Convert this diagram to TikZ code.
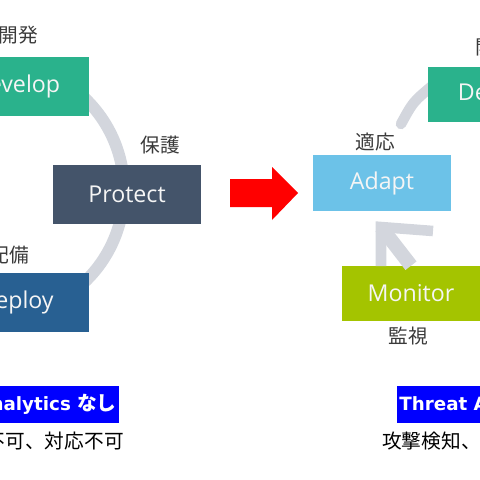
\documentclass[tikz,border=0pt]{standalone}
\usepackage{fontspec}
\newfontfamily\boxfont{Open Sans}
\newfontfamily\jpfont{Noto Sans CJK JP}
\newfontfamily\latfont{DejaVu Sans}
\usetikzlibrary{calc}

\definecolor{devgreen}{RGB}{42,178,140}
\definecolor{protslate}{RGB}{68,84,106}
\definecolor{deplblue}{RGB}{40,96,146}
\definecolor{adaptsky}{RGB}{108,194,232}
\definecolor{monlime}{RGB}{164,196,0}
\definecolor{arcgray}{RGB}{211,214,221}
\definecolor{labelgray}{RGB}{58,58,58}
\definecolor{arrowred}{RGB}{255,0,0}
\definecolor{tagblue}{RGB}{0,0,255}

\begin{document}
\begin{tikzpicture}[x=0.025cm,y=-0.025cm,
  stagebox/.style={rectangle,inner sep=0pt,text=white!92!gray,
    font=\boxfont\fontsize{16.5}{18}\selectfont},
  stagelbl/.style={text=labelgray,inner sep=0pt,
    font=\jpfont\fontsize{14}{16}\selectfont},
  cyclearc/.style={draw=arcgray,line width=8.5pt},
  tagbox/.style={fill=tagblue,text=white,inner xsep=1.5pt,inner ysep=0pt,
    minimum height=0.925cm,font=\latfont\bfseries\fontsize{13}{15}\selectfont},
  notetext/.style={text=black,inner sep=0pt,
    font=\jpfont\fontsize{14}{16}\selectfont}]

\useasboundingbox (0,0) rectangle (480,480);
\clip (0,0) rectangle (480,480);

% Cycle without analytics
\draw[cyclearc] (-3,190) ++(-50:127) arc[start angle=-50,end angle=50,radius=127];

\node[stagebox,fill=devgreen,minimum width=3.65cm,minimum height=1.475cm] (dev) at (16,86.5) {Develop};
\node[stagebox,fill=protslate,minimum width=3.7cm,minimum height=1.475cm] (prot) at (127,194.5) {Protect};
\node[stagebox,fill=deplblue,minimum width=3.65cm,minimum height=1.475cm] (depl) at (16,302.5) {Deploy};

\node[stagelbl] (devlbl) at (18,35) {開発};
\node[stagelbl] (protlbl) at (160,145) {保護};
\node[stagelbl] (depllbl) at (9,255) {配備};

% Red arrow
\fill[arrowred] (230,179) -- (272,179) -- (272,167) -- (298,193) -- (272,220) -- (272,207) -- (230,207) -- cycle;

% Cycle with analytics
\node[stagebox,fill=adaptsky,minimum width=3.45cm,minimum height=1.4cm] (adapt) at (382,183) {Adapt};
\node[stagebox,fill=monlime,minimum width=3.45cm,minimum height=1.375cm] (mon) at (411,293.5) {Monitor};

\coordinate (tip) at (381,227);
\draw[cyclearc,line width=10pt] (tip) -- (mon.north);
\draw[cyclearc,line width=7.5pt,line join=miter] (381,266) -- (tip) -- (433,231);
\draw[cyclearc,line width=7.5pt,line cap=round] (401,124) .. controls (413,102) .. (432,86);

\node[stagebox,fill=devgreen,minimum width=3.7cm,minimum height=1.375cm] (dev2) at (502,94.5) {Develop};

\node[stagelbl] (adaptlbl) at (375,142) {適応};
\node[stagelbl] (dev2lbl) at (495,47) {開発};
\node[stagelbl] (monlbl) at (408,336) {監視};

% Captions
\node[tagbox,anchor=east] (tagL) at (119,404) {Threat Analytics {\jpfont\fontsize{14}{15}\selectfont なし}};
\node[notetext,anchor=east] (noteL) at (124,441) {攻撃検知不可、対応不可};
\node[tagbox,anchor=west] (tagR) at (397,404) {Threat Analytics {\jpfont\fontsize{14}{15}\selectfont あり}};
\node[notetext,anchor=west] (noteR) at (382,441) {攻撃検知、対応可能};

\end{tikzpicture}
\end{document}
